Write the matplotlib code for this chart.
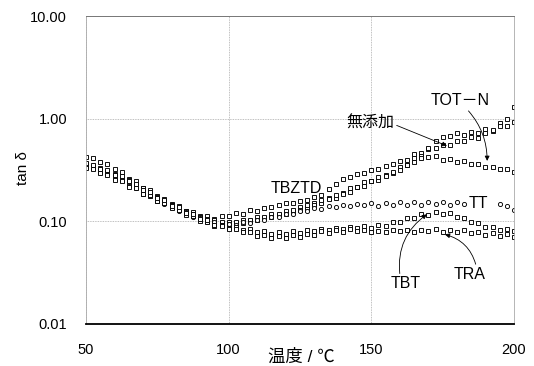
import numpy as np
import matplotlib
matplotlib.use("Agg")
import matplotlib.pyplot as plt
from matplotlib.ticker import FixedLocator, FuncFormatter, NullLocator

plt.rcParams['font.family'] = ['Liberation Sans', 'Noto Sans CJK JP', 'DejaVu Sans']

# temperature grid (°C)
temps = np.arange(50, 200.1, 2.5)
nan = np.nan

mutenka = [0.42, 0.41, 0.38, 0.36, 0.32, 0.30, 0.26, 0.245, 0.21, 0.2, 0.175, 0.165, 0.146, 0.14, 0.126, 0.122, 0.112, 0.112, 0.106, 0.113,
           0.112, 0.12, 0.118, 0.128, 0.125, 0.136, 0.138, 0.143, 0.15, 0.152, 0.158, 0.16, 0.172, 0.18, 0.205, 0.23, 0.26, 0.27, 0.29, 0.295,
           0.315, 0.325, 0.345, 0.36, 0.39, 0.40, 0.45, 0.46, 0.51, 0.52, 0.56, 0.56, 0.61, 0.6, 0.66, 0.65, 0.73, 0.76, 0.9, 1.0, 1.3]
tbztd = [0.36, 0.34, 0.33, 0.30, 0.29, 0.26, 0.25, 0.22, 0.21, 0.18, 0.172, 0.152, 0.145, 0.13, 0.125, 0.113, 0.11, 0.101, 0.102, 0.096,
         0.099, 0.096, 0.103, 0.1, 0.11, 0.107, 0.118, 0.114, 0.126, 0.124, 0.138, 0.135, 0.152, 0.15, 0.17, 0.168, 0.19, 0.192, 0.215, 0.22,
         0.245, 0.255, 0.285, 0.295, 0.335, 0.355, 0.41, 0.43, 0.52, 0.6, 0.66, 0.68, 0.72, 0.7, 0.74, 0.73, 0.8, 0.78, 0.85, 0.84, 0.92]
totn = [0.34, 0.33, 0.30, 0.295, 0.265, 0.255, 0.225, 0.215, 0.185, 0.178, 0.158, 0.153, 0.137, 0.133, 0.12, 0.117, 0.106, 0.105, 0.097, 0.099,
        0.094, 0.099, 0.097, 0.104, 0.102, 0.111, 0.11, 0.119, 0.118, 0.13, 0.13, 0.143, 0.145, 0.16, 0.164, 0.182, 0.186, 0.21, 0.215, 0.24,
        0.245, 0.27, 0.275, 0.305, 0.315, 0.355, 0.375, 0.415, 0.42, 0.43, 0.4, 0.405, 0.38, 0.385, 0.36, 0.365, 0.34, 0.34, 0.32, 0.32, 0.30]
tt = [0.35, 0.33, 0.32, 0.29, 0.28, 0.25, 0.24, 0.21, 0.2, 0.177, 0.168, 0.149, 0.143, 0.127, 0.123, 0.11, 0.108, 0.098, 0.099, 0.093,
      0.095, 0.092, 0.098, 0.097, 0.104, 0.103, 0.11, 0.11, 0.118, 0.118, 0.126, 0.125, 0.134, 0.132, 0.14, 0.137, 0.144, 0.141, 0.148, 0.143,
      0.15, 0.142, 0.152, 0.143, 0.153, 0.144, 0.155, 0.145, 0.153, 0.146, 0.154, 0.145, 0.155, 0.147, nan, nan, nan, nan, 0.148, 0.14, 0.128]
tbt = [0.33, 0.32, 0.295, 0.285, 0.255, 0.245, 0.218, 0.21, 0.186, 0.18, 0.157, 0.152, 0.134, 0.13, 0.116, 0.112, 0.101, 0.099, 0.091, 0.092,
       0.086, 0.088, 0.082, 0.085, 0.078, 0.081, 0.075, 0.079, 0.075, 0.08, 0.077, 0.083, 0.08, 0.085, 0.082, 0.087, 0.084, 0.089, 0.086, 0.09,
       0.087, 0.092, 0.091, 0.099, 0.098, 0.108, 0.108, 0.117, 0.115, 0.122, 0.117, 0.12, 0.11, 0.107, 0.098, 0.097, 0.088, 0.089, 0.083, 0.085, 0.08]
tra = [0.37, 0.355, 0.325, 0.315, 0.285, 0.275, 0.245, 0.232, 0.203, 0.194, 0.17, 0.161, 0.142, 0.137, 0.121, 0.117, 0.105, 0.102, 0.092, 0.091,
       0.084, 0.085, 0.078, 0.079, 0.072, 0.074, 0.069, 0.072, 0.069, 0.074, 0.071, 0.076, 0.074, 0.08, 0.077, 0.082, 0.079, 0.084, 0.08, 0.083,
       0.078, 0.081, 0.078, 0.083, 0.08, 0.083, 0.078, 0.083, 0.08, 0.084, 0.079, 0.082, 0.078, 0.083, 0.077, 0.079, 0.074, 0.077, 0.072, 0.075, 0.07]

series = [
    (mutenka, 's'),
    (tbztd, 's'),
    (totn, 's'),
    (tt, 'o'),
    (tbt, 's'),
    (tra, 's'),
]

x_ticks = [50, 100, 150, 200]
y_ticks = [0.01, 0.1, 1.0, 10.0]

fig = plt.figure(figsize=(5.34, 3.66), dpi=100)
ax = fig.add_axes([0.161, 0.115, 0.8015, 0.841])

for vals, mk in series:
    ax.plot(temps, vals, linestyle='none', marker=mk, ms=3.0, mfc='white',
            mec='black', mew=0.65)

ax.set_yscale('log')
ax.set_xlim(50, 200)
ax.set_ylim(0.01, 10)
ax.xaxis.set_major_locator(FixedLocator(x_ticks))
ax.yaxis.set_major_locator(FixedLocator(y_ticks))
ax.yaxis.set_minor_locator(NullLocator())
ax.yaxis.set_major_formatter(FuncFormatter(lambda v, p: f"{v:.2f}"))
ax.tick_params(axis='both', length=0, labelsize=10.5)
ax.tick_params(axis='x', pad=13.5)
ax.tick_params(axis='y', pad=13.5)
ax.grid(True, color='#aaaaaa', linestyle=(0, (1, 1)), linewidth=0.6)

for s in ['left', 'right']:
    ax.spines[s].set_color('#aaaaaa')
    ax.spines[s].set_linewidth(0.6)
    ax.spines[s].set_linestyle((0, (1, 1)))
ax.spines['top'].set_color('#777777')
ax.spines['top'].set_linewidth(0.7)
ax.spines['bottom'].set_color('black')
ax.spines['bottom'].set_linewidth(1.3)

fig.text(0.564, 0.004, "温度 / ℃", ha='center', va='bottom', fontsize=12.5)
fig.text(0.043, 0.54, "tan δ", ha='center', va='center', rotation=90, fontsize=11)

aprops = dict(arrowstyle='-|>', color='black', lw=0.6, mutation_scale=7, shrinkA=0, shrinkB=0)

ax.annotate("無添加", xy=(176.5, 0.544), xytext=(149.5, 0.913), ha='center', va='center',
            fontsize=11.5, arrowprops=dict(aprops, relpos=(1.0, 0.4)))
ax.annotate("TOT－N", xy=(190.6, 0.388), xytext=(181.1, 1.50), ha='center', va='center',
            fontsize=11.5, arrowprops=dict(aprops, relpos=(0.6, 0.0), connectionstyle='arc3,rad=-0.2'))
ax.text(123.8, 0.211, "TBZTD", ha='center', va='center', fontsize=11.5)
ax.text(187.4, 0.150, "TT", ha='center', va='center', fontsize=11.5)
ax.annotate("TBT", xy=(169.5, 0.117), xytext=(162.2, 0.0246), ha='center', va='center',
            fontsize=11.5, arrowprops=dict(aprops, relpos=(0.3, 1.0), connectionstyle='arc3,rad=-0.3'))
ax.annotate("TRA", xy=(175.8, 0.0745), xytext=(184.6, 0.0303), ha='center', va='center',
            fontsize=11.5, arrowprops=dict(aprops, relpos=(0.7, 1.0), connectionstyle='arc3,rad=0.3'))

fig.savefig("out.png", dpi=100)
